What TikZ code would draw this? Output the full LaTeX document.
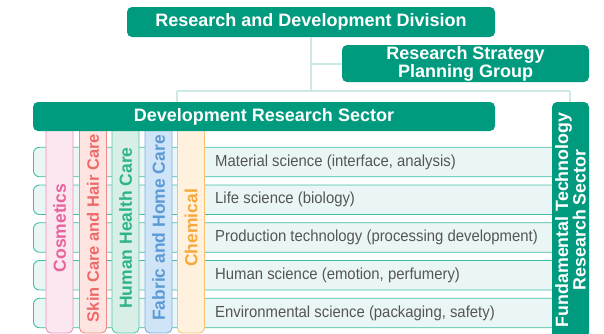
\documentclass[tikz,border=0pt]{standalone}
\usepackage{fontspec}
\setmainfont{Liberation Sans}
\definecolor{teal1}{RGB}{0,154,126}
\definecolor{linec}{RGB}{206,232,232}
\definecolor{rowfill}{RGB}{234,246,245}
\definecolor{rowdraw}{RGB}{64,190,164}
\definecolor{rowtext}{RGB}{85,85,85}
\definecolor{cosF}{RGB}{251,231,239}\definecolor{cosD}{RGB}{238,146,186}\definecolor{cosT}{RGB}{232,99,156}
\definecolor{skiF}{RGB}{253,228,225}\definecolor{skiD}{RGB}{240,138,134}\definecolor{skiT}{RGB}{238,106,106}
\definecolor{humF}{RGB}{216,239,231}\definecolor{humD}{RGB}{93,196,164}\definecolor{humT}{RGB}{46,179,138}
\definecolor{fabF}{RGB}{207,228,246}\definecolor{fabD}{RGB}{125,176,224}\definecolor{fabT}{RGB}{92,154,214}
\definecolor{cheF}{RGB}{255,241,222}\definecolor{cheD}{RGB}{248,194,114}\definecolor{cheT}{RGB}{246,169,58}
\newcommand{\rowtxt}[1]{\scalebox{0.93}[1]{#1}}
\tikzset{
  titlebox/.style={fill=teal1, rounded corners=5pt, text=white, inner sep=0pt,
    font=\bfseries\fontsize{18}{16}\selectfont, align=center},
  connector/.style={draw=linec, line width=2pt},
  rowbox/.style={fill=rowfill, draw=rowdraw, line width=0.9pt, rounded corners=6pt,
    minimum width=527pt, minimum height=29.5pt, anchor=west, inner sep=0pt},
  rowlabel/.style={anchor=west, inner sep=0pt, text=rowtext, font=\fontsize{16}{16}\selectfont},
  colbox/.style={rotate=90, rounded corners=5pt, line width=0.9pt, minimum width=210pt,
    minimum height=27pt, inner sep=0pt, font=\bfseries\fontsize{17.5}{17.5}\selectfont},
}
\begin{document}
\begin{tikzpicture}[x=1pt,y=-1pt]
\useasboundingbox (0,0) rectangle (604,333);
\clip (0,0) rectangle (604,333);
% top boxes
\node[titlebox, minimum width=368pt, minimum height=30pt] (rd) at (311,22) {Research and Development Division};
\node[titlebox, minimum width=247pt, minimum height=37pt] (rsp) at (465.5,63.5) {Research Strategy\\Planning Group};
% rows
\node[rowbox] (r1) at (33,162) {};
\node[rowbox] (r2) at (33,199.75) {};
\node[rowbox] (r3) at (33,237.5) {};
\node[rowbox] (r4) at (33,275.25) {};
\node[rowbox] (r5) at (33,313) {};
\node[rowlabel] (t1) at (215,162) {\rowtxt{Material science (interface, analysis)}};
\node[rowlabel] (t2) at (215,199.75) {\rowtxt{Life science (biology)}};
\node[rowlabel] (t3) at (215,237.5) {\rowtxt{Production technology (processing development)}};
\node[rowlabel] (t4) at (215,275.25) {\rowtxt{Human science (emotion, perfumery)}};
\node[rowlabel] (t5) at (215,313) {\rowtxt{Environmental science (packaging, safety)}};
% columns
\node[colbox, fill=cosF, draw=cosD, text=cosT] (c1) at (59.5,228) {Cosmetics};
\node[colbox, fill=skiF, draw=skiD, text=skiT, font=\bfseries\fontsize{16.5}{16.5}\selectfont] (c2) at (93,228) {Skin Care and Hair Care};
\node[colbox, fill=humF, draw=humD, text=humT] (c3) at (125.5,228) {Human Health Care};
\node[colbox, fill=fabF, draw=fabD, text=fabT] (c4) at (158.5,228) {Fabric and Home Care};
\node[colbox, fill=cheF, draw=cheD, text=cheT] (c5) at (191,228) {Chemical};
% sector boxes
\node[titlebox, minimum width=462pt, minimum height=29pt] (dev) at (264,116.5) {Development Research Sector};
\node[titlebox, rotate=90, minimum width=236pt, minimum height=37pt, font=\bfseries\fontsize{17.8}{15.5}\selectfont] (fund) at (570.5,220) {Fundamental Technology\\Research Sector};
% connectors
\coordinate (busL) at (177,91);
\coordinate (busR) at (570,91);
\coordinate (busM) at (311,91);
\draw[connector] (rd.south) -- (busM);
\draw[connector] (rsp.west) -- (rsp.west -| rd.south);
\draw[connector] (busL) -- (busR);
\draw[connector] (busL) -- (busL |- dev.north);
\draw[connector] (busR) -- (busR |- fund.east);
\end{tikzpicture}
\end{document}
